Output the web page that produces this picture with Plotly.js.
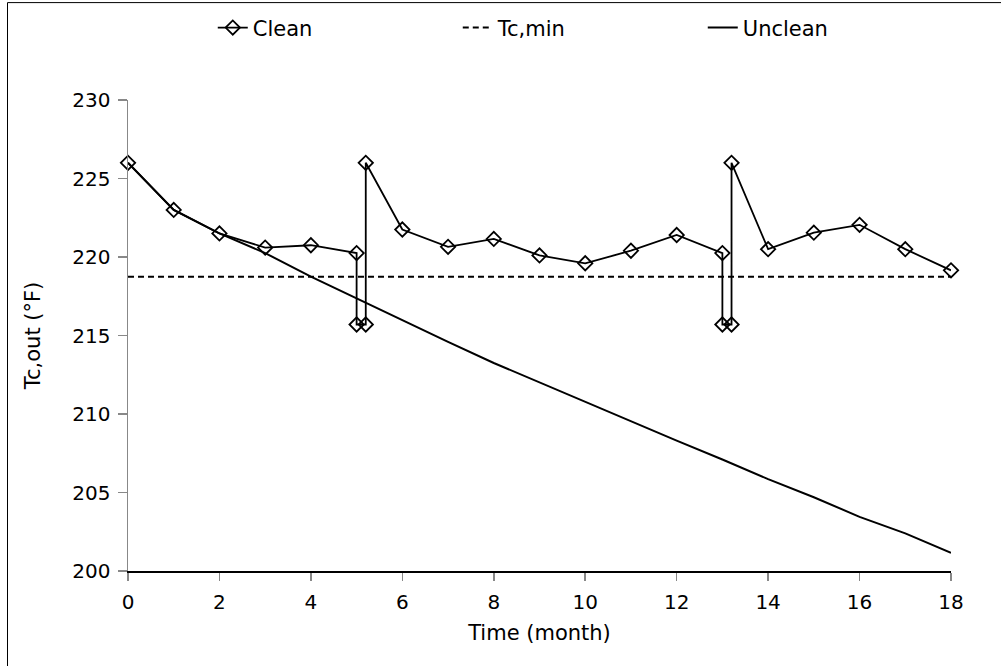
<!DOCTYPE html>
<html>
<head>
<meta charset="utf-8">
<script src="https://cdn.plot.ly/plotly-3.0.1.min.js"></script>
<style>html,body{margin:0;padding:0;background:#fff;}#chart{width:1001px;height:666px;}</style>
</head>
<body>
<div id="chart"></div>
<script>
// Clean: periodic cleaning at months 5 and 13 (drop, then jump back up)
var cleanX = [0, 1, 2, 3, 4, 5, 5, 5.2, 5.2, 6, 7, 8, 9, 10, 11, 12, 13, 13, 13.2, 13.2, 14, 15, 16, 17, 18];
var cleanY = [226.0, 223.0, 221.5, 220.6, 220.75, 220.25, 215.7, 215.7, 226.0, 221.75, 220.65, 221.15, 220.1, 219.6, 220.4, 221.4, 220.25, 215.7, 215.7, 226.0, 220.5, 221.55, 222.05, 220.5, 219.15];

// Minimum outlet temperature
var tcminX = [0, 18];
var tcminY = [218.75, 218.75];

// Unclean
var uncleanX = [0, 1, 2, 3, 4, 5, 6, 7, 8, 9, 10, 11, 12, 13, 14, 15, 16, 17, 18];
var uncleanY = [226.0, 223.0, 221.5, 220.25, 218.75, 217.35, 215.95, 214.6, 213.25, 212.0, 210.8, 209.5, 208.3, 207.1, 205.85, 204.7, 203.45, 202.4, 201.15];

var xTicks = [0, 2, 4, 6, 8, 10, 12, 14, 16, 18];
var yTicks = [200, 205, 210, 215, 220, 225, 230];

var FONT = 'DejaVu Sans, Liberation Sans, Arial, sans-serif';

var traces = [
  {
    x: cleanX, y: cleanY, name: 'Clean', type: 'scatter', mode: 'lines+markers',
    line: {color: '#000', width: 1.8},
    marker: {symbol: 'diamond-open', size: 11, color: '#000', line: {color: '#000', width: 1.8}},
    cliponaxis: false
  },
  {
    x: tcminX, y: tcminY, name: 'Tc,min', type: 'scatter', mode: 'lines',
    line: {color: '#000', width: 2, dash: '6px,4px'}
  },
  {
    x: uncleanX, y: uncleanY, name: 'Unclean', type: 'scatter', mode: 'lines',
    line: {color: '#000', width: 2}
  }
];

var layout = {
  width: 1001, height: 666,
  margin: {l: 128, r: 50, t: 100, b: 94.5, autoexpand: false},
  paper_bgcolor: '#fff', plot_bgcolor: '#fff',
  font: {family: FONT, size: 20, color: '#000'},
  showlegend: true,
  legend: {
    orientation: 'h', x: 0.103, xanchor: 'left', y: 1.153, yanchor: 'middle',
    font: {family: FONT, size: 21, color: '#000'},
    entrywidth: 200, entrywidthmode: 'pixels',
    bgcolor: 'rgba(0,0,0,0)'
  },
  xaxis: {
    range: [0, 18], tickvals: xTicks, ticktext: xTicks.map(String),
    showgrid: false, zeroline: false,
    showline: true, linecolor: '#000', linewidth: 1.5,
    ticks: 'outside', ticklen: 8, tickcolor: '#888', tickwidth: 1.5,
    ticklabelstandoff: 4,
    tickfont: {family: FONT, size: 20, color: '#000'},
    title: {text: 'Time (month)', font: {family: FONT, size: 21, color: '#000'}, standoff: 13},
    automargin: false
  },
  yaxis: {
    range: [200, 230], tickvals: yTicks, ticktext: yTicks.map(String),
    showgrid: false, zeroline: false,
    showline: true, linecolor: '#888', linewidth: 1.5,
    ticks: 'outside', ticklen: 9, tickcolor: '#888', tickwidth: 1.5,
    ticklabelstandoff: 3,
    tickfont: {family: FONT, size: 20, color: '#000'},
    title: {text: 'Tc,out (°F)', font: {family: FONT, size: 21, color: '#000'}, standoff: 26},
    automargin: false
  },
  shapes: [
    {type: 'rect', xref: 'paper', yref: 'paper', x0: -0.1464, x1: 1.1, y0: -0.25, y1: 1.2068,
     line: {color: '#000', width: 1}, fillcolor: 'rgba(0,0,0,0)', layer: 'below'}
  ]
};

Plotly.newPlot('chart', traces, layout, {displayModeBar: false, staticPlot: true});
</script>
</body>
</html>
